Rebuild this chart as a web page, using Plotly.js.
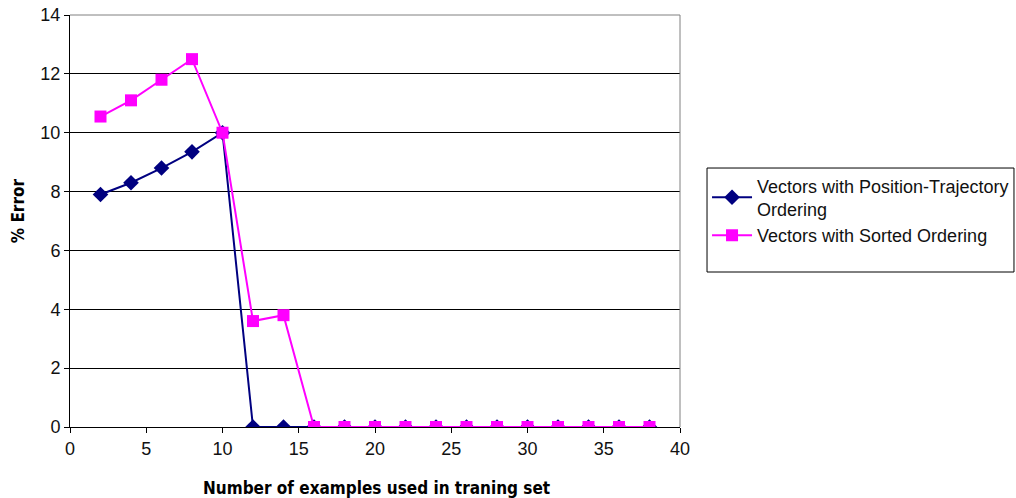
<!DOCTYPE html>
<html><head><meta charset="utf-8">
<script src="https://cdn.plot.ly/plotly-3.0.1.min.js"></script>
<style>html,body{margin:0;padding:0;background:#fff}</style>
</head><body>
<div id="chart" style="width:1016px;height:498px"></div>
<script>
const xValues = [2,4,6,8,10,12,14,16,18,20,22,24,26,28,30,32,34,36,38];
const positionTrajectory = [7.9,8.3,8.8,9.35,10,0,0,0,0,0,0,0,0,0,0,0,0,0,0];
const sortedOrdering = [10.55,11.1,11.8,12.5,10,3.6,3.8,0,0,0,0,0,0,0,0,0,0,0,0];
const seriesNames = ["Vectors with Position-Trajectory<br>Ordering","Vectors with Sorted Ordering"];
const xTicks = [0,5,10,15,20,25,30,35,40];
const yTicks = [0,2,4,6,8,10,12,14];
const xTitle = 'Number of examples used in traning set';
const yTitle = '% Error';

const titleFont = {family: 'DejaVu Sans Condensed, Liberation Sans Narrow, Arial Narrow, sans-serif', size: 17, weight: 'bold', color: '#000'};

const traces = [
  {x: xValues, y: positionTrajectory, name: seriesNames[0], mode: 'lines+markers',
   line: {color: '#000080', width: 2}, marker: {symbol: 'diamond', size: 12, color: '#000080'}},
  {x: xValues, y: sortedOrdering, name: seriesNames[1], mode: 'lines+markers',
   line: {color: '#FF00FF', width: 2}, marker: {symbol: 'square', size: 12, color: '#FF00FF'}}
];
const layout = {
  width: 1016, height: 498,
  margin: {l: 70, r: 336, t: 15, b: 71},
  paper_bgcolor: '#fff', plot_bgcolor: '#fff',
  font: {family: 'Liberation Sans, Arial, sans-serif', size: 18, color: '#000'},
  xaxis: {range: [0, 40], tickvals: xTicks, ticks: 'outside', ticklen: 5, tickcolor: '#000',
    showgrid: false, zeroline: false, showline: true, linecolor: '#000', linewidth: 1,
    tickfont: {size: 18, color: '#111'}, automargin: false},
  yaxis: {range: [0, 14], tickvals: yTicks, ticks: 'outside', ticklen: 5, tickcolor: '#000',
    showgrid: true, gridcolor: '#000', gridwidth: 1, zeroline: false, showline: true,
    linecolor: '#000', linewidth: 1, tickfont: {size: 18, color: '#111'}, automargin: false},
  annotations: [
    {text: xTitle, xref: 'paper', yref: 'paper', x: 0.502, y: -0.148, xanchor: 'center', yanchor: 'middle',
     showarrow: false, font: titleFont},
    {text: yTitle, xref: 'paper', yref: 'paper', x: -0.086, y: 0.525, xanchor: 'center', yanchor: 'middle',
     textangle: -90, showarrow: false, font: titleFont}
  ],
  shapes: [
    {type: 'line', xref: 'paper', yref: 'paper', x0: 1, x1: 1, y0: 0, y1: 1, line: {color: '#808080', width: 1}},
    {type: 'line', xref: 'paper', yref: 'paper', x0: 0, x1: 1, y0: 1, y1: 1, line: {color: '#808080', width: 1}},
    {type: 'rect', xref: 'paper', yref: 'paper', x0: 1.0443, x1: 1.5475, y0: 0.3762, y1: 0.6286,
     line: {color: '#000', width: 1}, fillcolor: 'rgba(0,0,0,0)'}
  ],
  legend: {xref: 'container', yref: 'container', x: 0.6959, y: 0.664, xanchor: 'left', yanchor: 'top', borderwidth: 0,
    bgcolor: 'rgba(0,0,0,0)', font: {size: 18, color: '#111'}, itemwidth: 40, tracegroupgap: 2},
  showlegend: true
};
Plotly.newPlot('chart', traces, layout, {staticPlot: true});
</script>
</body></html>
